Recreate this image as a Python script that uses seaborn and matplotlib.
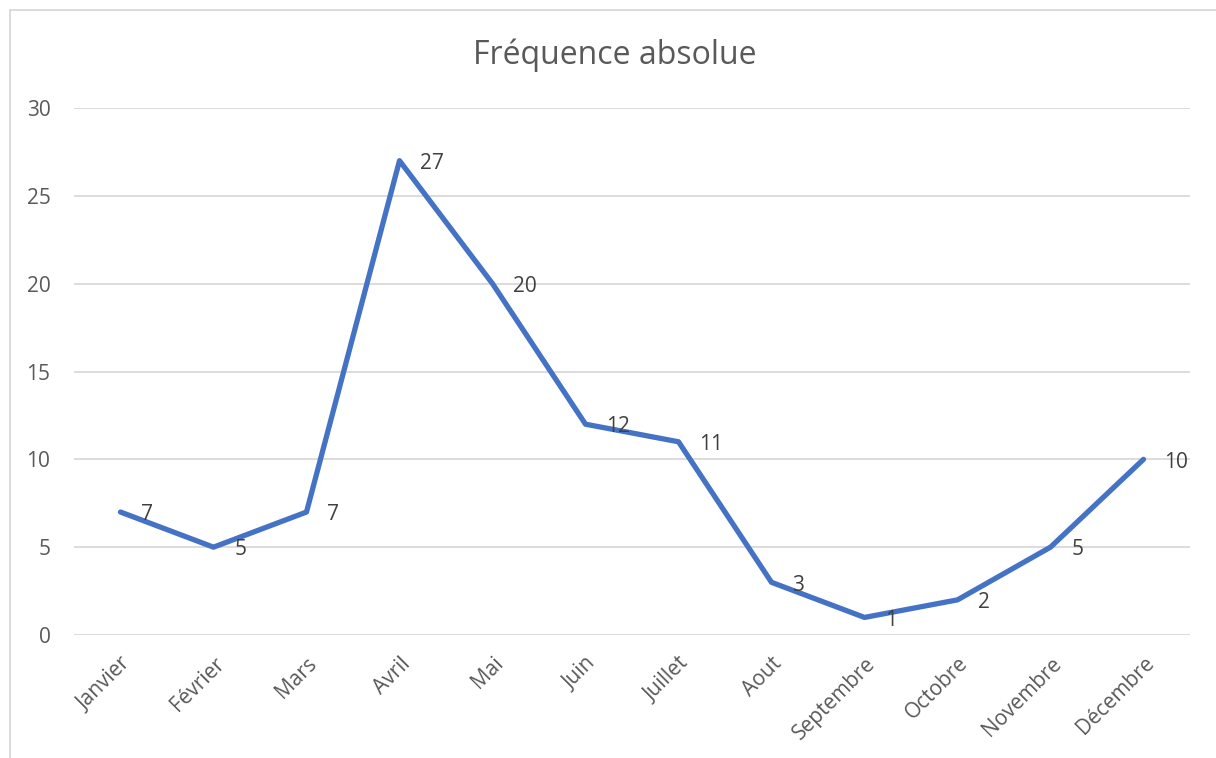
import matplotlib
matplotlib.use("Agg")
import matplotlib.pyplot as plt
from matplotlib.lines import Line2D
import seaborn as sns
import pandas as pd

months = ["Janvier", "Février", "Mars", "Avril", "Mai", "Juin", "Juillet",
          "Aout", "Septembre", "Octobre", "Novembre", "Décembre"]
counts = [7, 5, 7, 27, 20, 12, 11, 3, 1, 2, 5, 10]
y_ticks = [0, 5, 10, 15, 20, 25, 30]
title = "Fréquence absolue"

sns.set_theme(style="white")
plt.rcParams["font.family"] = ["Open Sans", "DejaVu Sans"]

df = pd.DataFrame({"mois": months, "effectif": counts})
df["pos"] = range(len(months))

fig = plt.figure(figsize=(12.16, 7.58), dpi=100)
ax = fig.add_axes([74 / 1216, 1 - 635 / 758, (1190 - 74) / 1216, (635 - 108) / 758])

sns.lineplot(data=df, x="pos", y="effectif", ax=ax, color="#4472C4",
             linewidth=3.8, solid_joinstyle="round", solid_capstyle="round")

ax.set_xlim(-0.5, len(months) - 0.5)
ax.set_ylim(0, 30)
ax.set_yticks(y_ticks)
ax.set_xticks(range(len(months)))
ax.set_xticklabels(months, rotation=45, ha="right", va="top",
                   rotation_mode="anchor")
ax.tick_params(axis="both", length=0, labelsize=15, colors="#595959")
ax.tick_params(axis="x", pad=13)
ax.tick_params(axis="y", pad=17)
ax.set_xlabel("")
ax.set_ylabel("")
ax.grid(axis="y", color="#D9D9D9", linewidth=1.3)
ax.set_axisbelow(True)
for s in ax.spines.values():
    s.set_visible(False)

# value labels to the right of each point
for x, y in zip(df["pos"], df["effectif"]):
    ax.annotate(f"{y}", (x, y), xytext=(15, -2), textcoords="offset points",
                ha="left", va="center", fontsize=15, color="#404040")

fig.text(615 / 1216, 1 - 55 / 758, title, ha="center", va="center",
         fontsize=23, color="#595959")

# chart area frame
fig.add_artist(Line2D([10 / 1216, 1], [1 - 10 / 758, 1 - 10 / 758],
                      transform=fig.transFigure, color="#D9D9D9", linewidth=1.3))
fig.add_artist(Line2D([10 / 1216, 10 / 1216], [0, 1 - 10 / 758],
                      transform=fig.transFigure, color="#D9D9D9", linewidth=1.3))

fig.savefig("out.png", dpi=100, facecolor="white")
